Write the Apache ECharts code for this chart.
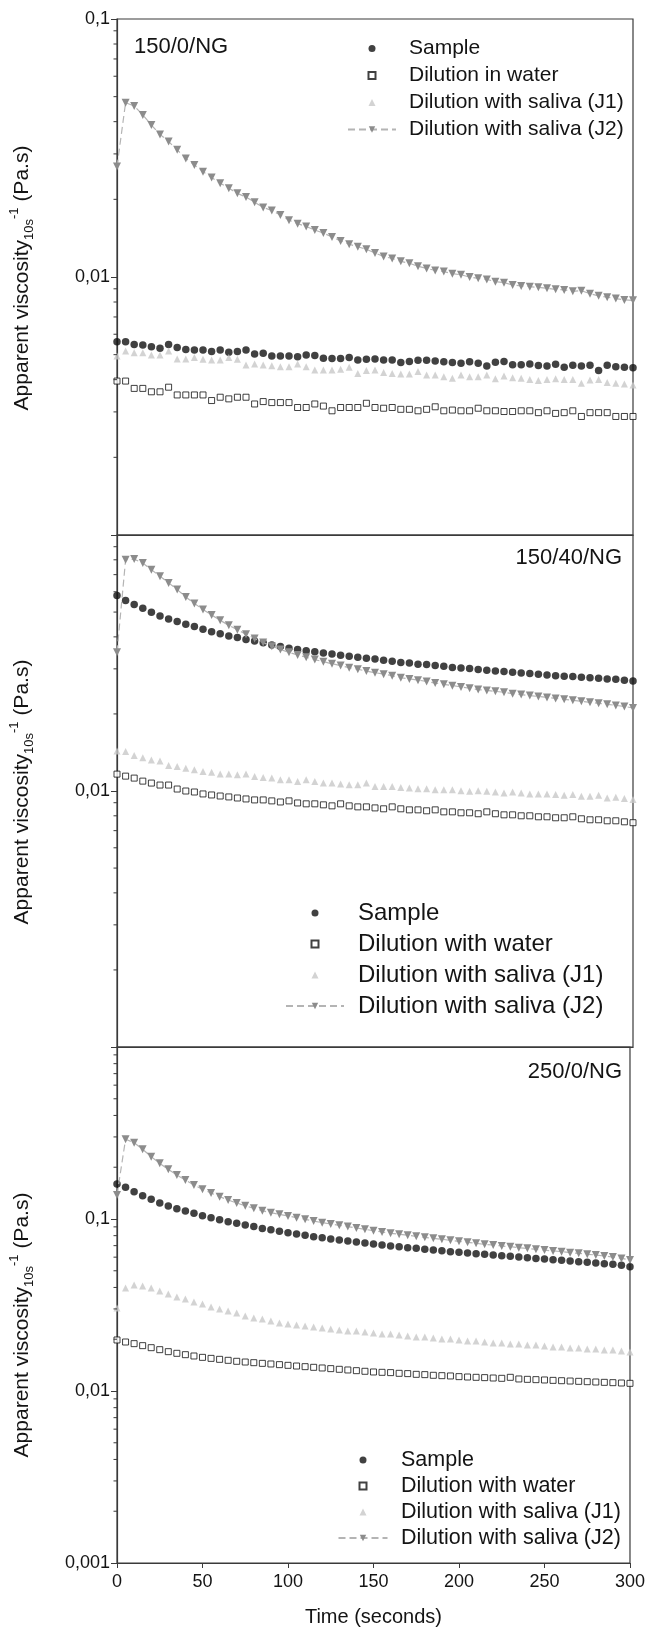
<!DOCTYPE html>
<html>
<head>
<meta charset="utf-8">
<script src="https://cdn.jsdelivr.net/npm/echarts@6/dist/echarts.min.js"></script>
<style>
html,body{margin:0;padding:0;background:#fff;}
#c{width:648px;height:1629px;}
</style>
</head>
<body>
<div id="c"></div>
<script>
const times = [0,5,10,15,20,25,30,35,40,45,50,55,60,65,70,75,80,85,90,95,100,105,110,115,120,125,130,135,140,145,150,155,160,165,170,175,180,185,190,195,200,205,210,215,220,225,230,235,240,245,250,255,260,265,270,275,280,285,290,295,300];

// Panel 1 : 150/0/NG
const p1Sample = [0.00561,0.00561,0.00548,0.00545,0.00537,0.00529,0.00547,0.00533,0.00524,0.00521,0.00521,0.00514,0.00521,0.00511,0.00514,0.00521,0.00503,0.00506,0.00494,0.00494,0.00494,0.00491,0.00499,0.00496,0.00484,0.00483,0.00483,0.00487,0.00477,0.00480,0.00481,0.00477,0.00477,0.00466,0.00470,0.00476,0.00476,0.00472,0.00469,0.00466,0.00463,0.00469,0.00463,0.00452,0.00467,0.00470,0.00457,0.00457,0.00460,0.00454,0.00452,0.00459,0.00447,0.00455,0.00452,0.00455,0.00434,0.00455,0.00449,0.00447,0.00445];
const p1Water = [0.00395,0.00395,0.00370,0.00370,0.00359,0.00359,0.00374,0.00349,0.00349,0.00349,0.00349,0.00332,0.00342,0.00337,0.00342,0.00342,0.00322,0.00329,0.00326,0.00326,0.00326,0.00312,0.00312,0.00322,0.00316,0.00303,0.00312,0.00312,0.00312,0.00324,0.00312,0.00310,0.00312,0.00307,0.00307,0.00303,0.00307,0.00314,0.00303,0.00305,0.00303,0.00303,0.00310,0.00303,0.00303,0.00301,0.00301,0.00303,0.00303,0.00298,0.00303,0.00296,0.00298,0.00303,0.00288,0.00298,0.00298,0.00298,0.00288,0.00288,0.00288];
const p1J1 = [0.00494,0.00517,0.00509,0.00509,0.00499,0.00499,0.00517,0.00481,0.00481,0.00487,0.00480,0.00477,0.00477,0.00487,0.00480,0.00456,0.00460,0.00456,0.00453,0.00449,0.00449,0.00460,0.00449,0.00436,0.00436,0.00436,0.00439,0.00447,0.00423,0.00434,0.00436,0.00426,0.00423,0.00421,0.00421,0.00430,0.00417,0.00417,0.00411,0.00405,0.00417,0.00411,0.00411,0.00417,0.00403,0.00413,0.00407,0.00405,0.00401,0.00397,0.00401,0.00403,0.00401,0.00401,0.00387,0.00399,0.00401,0.00390,0.00387,0.00385,0.00381];
const p1J2 = [0.0268,0.0474,0.0460,0.0425,0.0388,0.0357,0.0335,0.0311,0.0288,0.0272,0.0256,0.0243,0.0231,0.0221,0.0211,0.0204,0.0195,0.0186,0.0181,0.0174,0.0166,0.0161,0.0157,0.0152,0.0148,0.0143,0.0138,0.0134,0.0131,0.0128,0.0124,0.0120,0.0118,0.0115,0.0113,0.0110,0.0108,0.0106,0.0105,0.0103,0.0102,0.0100,0.00988,0.00979,0.00959,0.00951,0.00931,0.00923,0.00917,0.00912,0.00904,0.00896,0.00891,0.00880,0.00885,0.00862,0.00845,0.00835,0.00825,0.00815,0.00812];

// Panel 2 : 150/40/NG
const p2Sample = [0.0580,0.0555,0.0535,0.0517,0.0499,0.0483,0.0470,0.0459,0.0448,0.0439,0.0428,0.0419,0.0411,0.0403,0.0398,0.0391,0.0385,0.0379,0.0372,0.0367,0.0361,0.0357,0.0353,0.0350,0.0346,0.0343,0.0339,0.0336,0.0333,0.0330,0.0328,0.0324,0.0321,0.0318,0.0316,0.0313,0.0312,0.0309,0.0307,0.0304,0.0302,0.0301,0.0298,0.0296,0.0294,0.0293,0.0291,0.0289,0.0288,0.0286,0.0284,0.0282,0.0281,0.0280,0.0278,0.0277,0.0276,0.0274,0.0273,0.0271,0.0269];
const p2Water = [0.01164,0.01143,0.01123,0.01093,0.01074,0.01055,0.01055,0.01018,0.01000,0.00991,0.00974,0.00965,0.00956,0.00948,0.00939,0.00931,0.00923,0.00923,0.00915,0.00906,0.00915,0.00898,0.00891,0.00891,0.00883,0.00875,0.00891,0.00875,0.00867,0.00867,0.00859,0.00852,0.00867,0.00852,0.00844,0.00844,0.00837,0.00844,0.00829,0.00829,0.00822,0.00822,0.00815,0.00829,0.00815,0.00807,0.00807,0.00800,0.00800,0.00793,0.00793,0.00786,0.00786,0.00793,0.00779,0.00772,0.00772,0.00765,0.00765,0.00758,0.00752];
const p2J1 = [0.01433,0.01425,0.01375,0.01350,0.01323,0.01311,0.01257,0.01246,0.01228,0.01210,0.01192,0.01185,0.01164,0.01164,0.01157,0.01164,0.01140,0.01130,0.01123,0.01106,0.01106,0.01090,0.01106,0.01090,0.01074,0.01074,0.01064,0.01058,0.01058,0.01074,0.01042,0.01042,0.01042,0.01033,0.01027,0.01021,0.01021,0.01012,0.01012,0.01012,0.01003,0.00997,0.01003,0.00997,0.00991,0.00982,0.00991,0.00982,0.00974,0.00974,0.00974,0.00968,0.00962,0.00968,0.00954,0.00954,0.00962,0.00940,0.00945,0.00934,0.00926];
const p2J2 = [0.0348,0.0800,0.0805,0.0777,0.0732,0.0690,0.0650,0.0612,0.0573,0.0540,0.0512,0.0487,0.0464,0.0444,0.0426,0.0410,0.0394,0.0380,0.0368,0.0357,0.0348,0.0340,0.0333,0.0326,0.0320,0.0314,0.0309,0.0303,0.0299,0.0294,0.0290,0.0286,0.0282,0.0277,0.0274,0.0271,0.0268,0.0264,0.0261,0.0258,0.0255,0.0252,0.0249,0.0247,0.0245,0.0243,0.0240,0.0238,0.0236,0.0234,0.0232,0.0230,0.0228,0.0226,0.0224,0.0222,0.0220,0.0218,0.0216,0.0214,0.0211];

// Panel 3 : 250/0/NG
const p3Sample = [0.1598,0.1528,0.1442,0.1367,0.1301,0.1239,0.1190,0.1148,0.1113,0.1079,0.1046,0.1018,0.0991,0.0965,0.0944,0.0923,0.0903,0.0882,0.0867,0.0848,0.0833,0.0818,0.0804,0.0789,0.0779,0.0765,0.0755,0.0745,0.0735,0.0725,0.0716,0.0706,0.0697,0.0690,0.0681,0.0675,0.0666,0.0660,0.0654,0.0646,0.0640,0.0634,0.0629,0.0623,0.0618,0.0612,0.0607,0.0601,0.0596,0.0590,0.0585,0.0580,0.0575,0.0570,0.0565,0.0560,0.0555,0.0550,0.0545,0.0538,0.0528];
const p3Water = [0.01980,0.01927,0.01885,0.01835,0.01786,0.01739,0.01693,0.01656,0.01626,0.01598,0.01569,0.01548,0.01528,0.01508,0.01488,0.01474,0.01461,0.01448,0.01436,0.01423,0.01410,0.01397,0.01385,0.01373,0.01361,0.01349,0.01337,0.01325,0.01313,0.01302,0.01290,0.01284,0.01279,0.01267,0.01262,0.01250,0.01245,0.01234,0.01228,0.01223,0.01212,0.01206,0.01201,0.01196,0.01190,0.01185,0.01201,0.01175,0.01169,0.01164,0.01159,0.01153,0.01148,0.01143,0.01138,0.01133,0.01128,0.01123,0.01118,0.01113,0.01108];
const p3J1 = [0.03039,0.03970,0.04133,0.04078,0.03970,0.03814,0.03664,0.03519,0.03426,0.03292,0.03205,0.03079,0.02997,0.02918,0.02841,0.02729,0.02657,0.02622,0.02553,0.02485,0.02452,0.02419,0.02386,0.02355,0.02324,0.02293,0.02262,0.02232,0.02232,0.02203,0.02173,0.02145,0.02145,0.02116,0.02088,0.02061,0.02061,0.02033,0.02006,0.02006,0.01980,0.01953,0.01953,0.01927,0.01902,0.01902,0.01877,0.01877,0.01851,0.01851,0.01827,0.01802,0.01802,0.01778,0.01778,0.01755,0.01755,0.01731,0.01731,0.01708,0.01685];
const p3J2 = [0.1379,0.2906,0.2779,0.2541,0.2304,0.2107,0.1945,0.1802,0.1686,0.1576,0.1487,0.1416,0.1348,0.1290,0.1239,0.1195,0.1153,0.1118,0.1088,0.1064,0.1041,0.1018,0.0996,0.0973,0.0952,0.0935,0.0919,0.0903,0.0887,0.0871,0.0855,0.0840,0.0825,0.0815,0.0804,0.0793,0.0782,0.0772,0.0762,0.0752,0.0742,0.0732,0.0722,0.0712,0.0706,0.0697,0.0690,0.0681,0.0675,0.0666,0.0660,0.0652,0.0646,0.0637,0.0632,0.0623,0.0618,0.0609,0.0601,0.0590,0.0578];

// axis tick values / labels
const minorTicksTwoDec = [0.002,0.003,0.004,0.005,0.006,0.007,0.008,0.009,0.02,0.03,0.04,0.05,0.06,0.07,0.08,0.09];
const minorTicksThreeDec = [0.002,0.003,0.004,0.005,0.006,0.007,0.008,0.009,0.02,0.03,0.04,0.05,0.06,0.07,0.08,0.09,0.2,0.3,0.4,0.5,0.6,0.7,0.8,0.9];
const yLabels1 = {'-1':'0,1','-2':'0,01'};
const yLabels2 = {'-2':'0,01'};
const yLabels3 = {'-1':'0,1','-2':'0,01','-3':'0,001'};

const titles = ['150/0/NG','150/40/NG','250/0/NG'];
const NAME_S = 'Sample';
const NAME_W1 = 'Dilution in water';
const NAME_W = 'Dilution with water';
const NAME_J1 = 'Dilution with saliva (J1)';
const NAME_J2 = 'Dilution with saliva (J2)';

const FONT = "'Liberation Sans', Arial, Helvetica, sans-serif";
const AX = '#3a3a3a';
const TXT = '#141414';
const C_SAMPLE = '#121212';
const C_J1 = '#c8c8c8';
const C_J2 = '#8c8c8c';
const C_J2LINE = '#b4b4b4';

const gridDefs = [
  {left:117, top:19, width:516, height:516},
  {left:117, top:535, width:516, height:512},
  {left:117, top:1047, width:516, height:516}
];

function pairs(vals){ return times.map((t,i)=>[t, vals[i]]); }

function yAxisDef(idx, min, max, labels){
  return {
    type:'log', logBase:10, gridIndex:idx, min:min, max:max,
    axisLine:{show:true, lineStyle:{color:AX, width:1.2}},
    axisTick:{show:true, length:6, lineStyle:{color:AX, width:1}},
    splitLine:{show:false}, minorTick:{show:false},
    axisLabel:{show:true, margin:7, fontSize:18, fontFamily:FONT, color:TXT,
      formatter:function(v){ const e = Math.round(Math.log10(v)); return labels[String(e)] || ''; }}
  };
}
function xAxisDef(idx, showLabels){
  return {
    type:'value', gridIndex:idx, min:0, max:300, interval:50,
    axisLine:{show:true, lineStyle:{color:AX, width:1.2}},
    axisTick:{show:showLabels, length:5, lineStyle:{color:AX, width:1}},
    splitLine:{show:false},
    axisLabel:{show:showLabels, margin:10, fontSize:18, fontFamily:FONT, color:TXT},
    name: showLabels ? 'Time (seconds)' : '',
    nameLocation:'middle', nameGap:44,
    nameTextStyle:{fontSize:20, fontFamily:FONT, color:TXT}
  };
}
function tickSeries(idx, ticks){
  return {
    type:'custom', name:'minor-ticks-'+idx, xAxisIndex:idx, yAxisIndex:idx, silent:true, clip:false,
    data: ticks.map(v=>[0, v]),
    encode:{x:0, y:1},
    renderItem:function(params, api){
      const p = api.coord([api.value(0), api.value(1)]);
      return {type:'line', shape:{x1:p[0]-3.5, y1:p[1], x2:p[0], y2:p[1]}, style:{stroke:AX, lineWidth:1}};
    },
    z:5
  };
}
function panelSeries(idx, waterName, s, w, j1, j2){
  return [
    {type:'scatter', name:NAME_S, xAxisIndex:idx, yAxisIndex:idx, data:pairs(s), symbol:'circle', symbolSize:7.5,
      itemStyle:{color:C_SAMPLE}, z:3},
    {type:'scatter', name:waterName, xAxisIndex:idx, yAxisIndex:idx, data:pairs(w), symbol:'rect', symbolSize:6,
      itemStyle:{color:'#ffffff', borderColor:C_SAMPLE, borderWidth:1}, z:3},
    {type:'scatter', name:NAME_J1, xAxisIndex:idx, yAxisIndex:idx, data:pairs(j1), symbol:'triangle', symbolSize:7,
      itemStyle:{color:C_J1}, z:3},
    {type:'line', name:NAME_J2, xAxisIndex:idx, yAxisIndex:idx, data:pairs(j2), symbol:'triangle', symbolRotate:180, symbolSize:8,
      showSymbol:true, showAllSymbol:true,
      itemStyle:{color:C_J2}, lineStyle:{color:C_J2LINE, width:1.2, type:[7,4]}, z:4}
  ];
}
// one legend for marker-only entries, one for the line entry (J2)
function legendPair(symCx, textX, row1Cy, lineH, fontSize, lineLen, waterName){
  const icon = 7;
  const top = row1Cy - lineH/2;
  const l1 = symCx - icon/2;
  const l2 = symCx - lineLen/2;
  const ts = (pad)=>({fontSize:fontSize, fontFamily:FONT, color:TXT, lineHeight:lineH, padding:[0,0,0,pad]});
  return [
    {orient:'vertical', left:l1, top:top, padding:0, itemWidth:icon, itemHeight:icon, itemGap:0,
      selectedMode:false, data:[NAME_S, waterName, NAME_J1], textStyle:ts(textX - l1 - icon - 5)},
    {orient:'vertical', left:l2, top:top + 3*lineH, padding:0, itemWidth:lineLen, itemHeight:8, itemGap:0,
      selectedMode:false, data:[NAME_J2], textStyle:ts(textX - l2 - lineLen - 5)}
  ];
}
function yTitle(cx, cy){
  return {
    type:'text', x:cx, y:cy, rotation:Math.PI/2, silent:true,
    style:{
      text:'{a|Apparent viscosity}{b|10s}{c|-1}{a| (Pa.s)}',
      align:'center', verticalAlign:'middle', textAlign:'center', textVerticalAlign:'middle',
      fill:TXT, fontFamily:FONT, fontSize:21,
      rich:{
        a:{fontSize:21, lineHeight:28, fontFamily:FONT, color:TXT},
        b:{fontSize:13, lineHeight:14, verticalAlign:'bottom', fontFamily:FONT, color:TXT},
        c:{fontSize:13, lineHeight:20, verticalAlign:'top', fontFamily:FONT, color:TXT}
      }
    }
  };
}

const chart = echarts.init(document.getElementById('c'), null, {renderer:'canvas'});
const option = {
  animation:false,
  backgroundColor:'#ffffff',
  grid: gridDefs.map(g=>Object.assign({show:true, borderColor:AX, borderWidth:1.2, backgroundColor:'transparent', containLabel:false}, g)),
  xAxis:[xAxisDef(0,false), xAxisDef(1,false), xAxisDef(2,true)],
  yAxis:[yAxisDef(0,0.001,0.1,yLabels1), yAxisDef(1,0.001,0.1,yLabels2), yAxisDef(2,0.001,1,yLabels3)],
  legend:[].concat(
    legendPair(371, 408, 48.5, 27, 21, 48, NAME_W1),
    legendPair(314, 357, 913, 31, 24, 58, NAME_W),
    legendPair(362, 400, 1460, 26, 21.5, 49, NAME_W)
  ),
  graphic:[
    {type:'text', x:134, y:47, silent:true, style:{text:titles[0], fill:TXT, fontSize:22, fontFamily:FONT, align:'left', verticalAlign:'middle', textAlign:'left', textVerticalAlign:'middle'}},
    {type:'text', x:622, y:558, silent:true, style:{text:titles[1], fill:TXT, fontSize:22, fontFamily:FONT, align:'right', verticalAlign:'middle', textAlign:'right', textVerticalAlign:'middle'}},
    {type:'text', x:622, y:1072, silent:true, style:{text:titles[2], fill:TXT, fontSize:22, fontFamily:FONT, align:'right', verticalAlign:'middle', textAlign:'right', textVerticalAlign:'middle'}},
    yTitle(22, 278), yTitle(22, 792), yTitle(22, 1325)
  ],
  series:[].concat(
    panelSeries(0, NAME_W1, p1Sample, p1Water, p1J1, p1J2),
    panelSeries(1, NAME_W, p2Sample, p2Water, p2J1, p2J2),
    panelSeries(2, NAME_W, p3Sample, p3Water, p3J1, p3J2),
    [tickSeries(0, minorTicksTwoDec), tickSeries(1, minorTicksTwoDec), tickSeries(2, minorTicksThreeDec)]
  )
};
chart.setOption(option);
</script>
</body>
</html>
